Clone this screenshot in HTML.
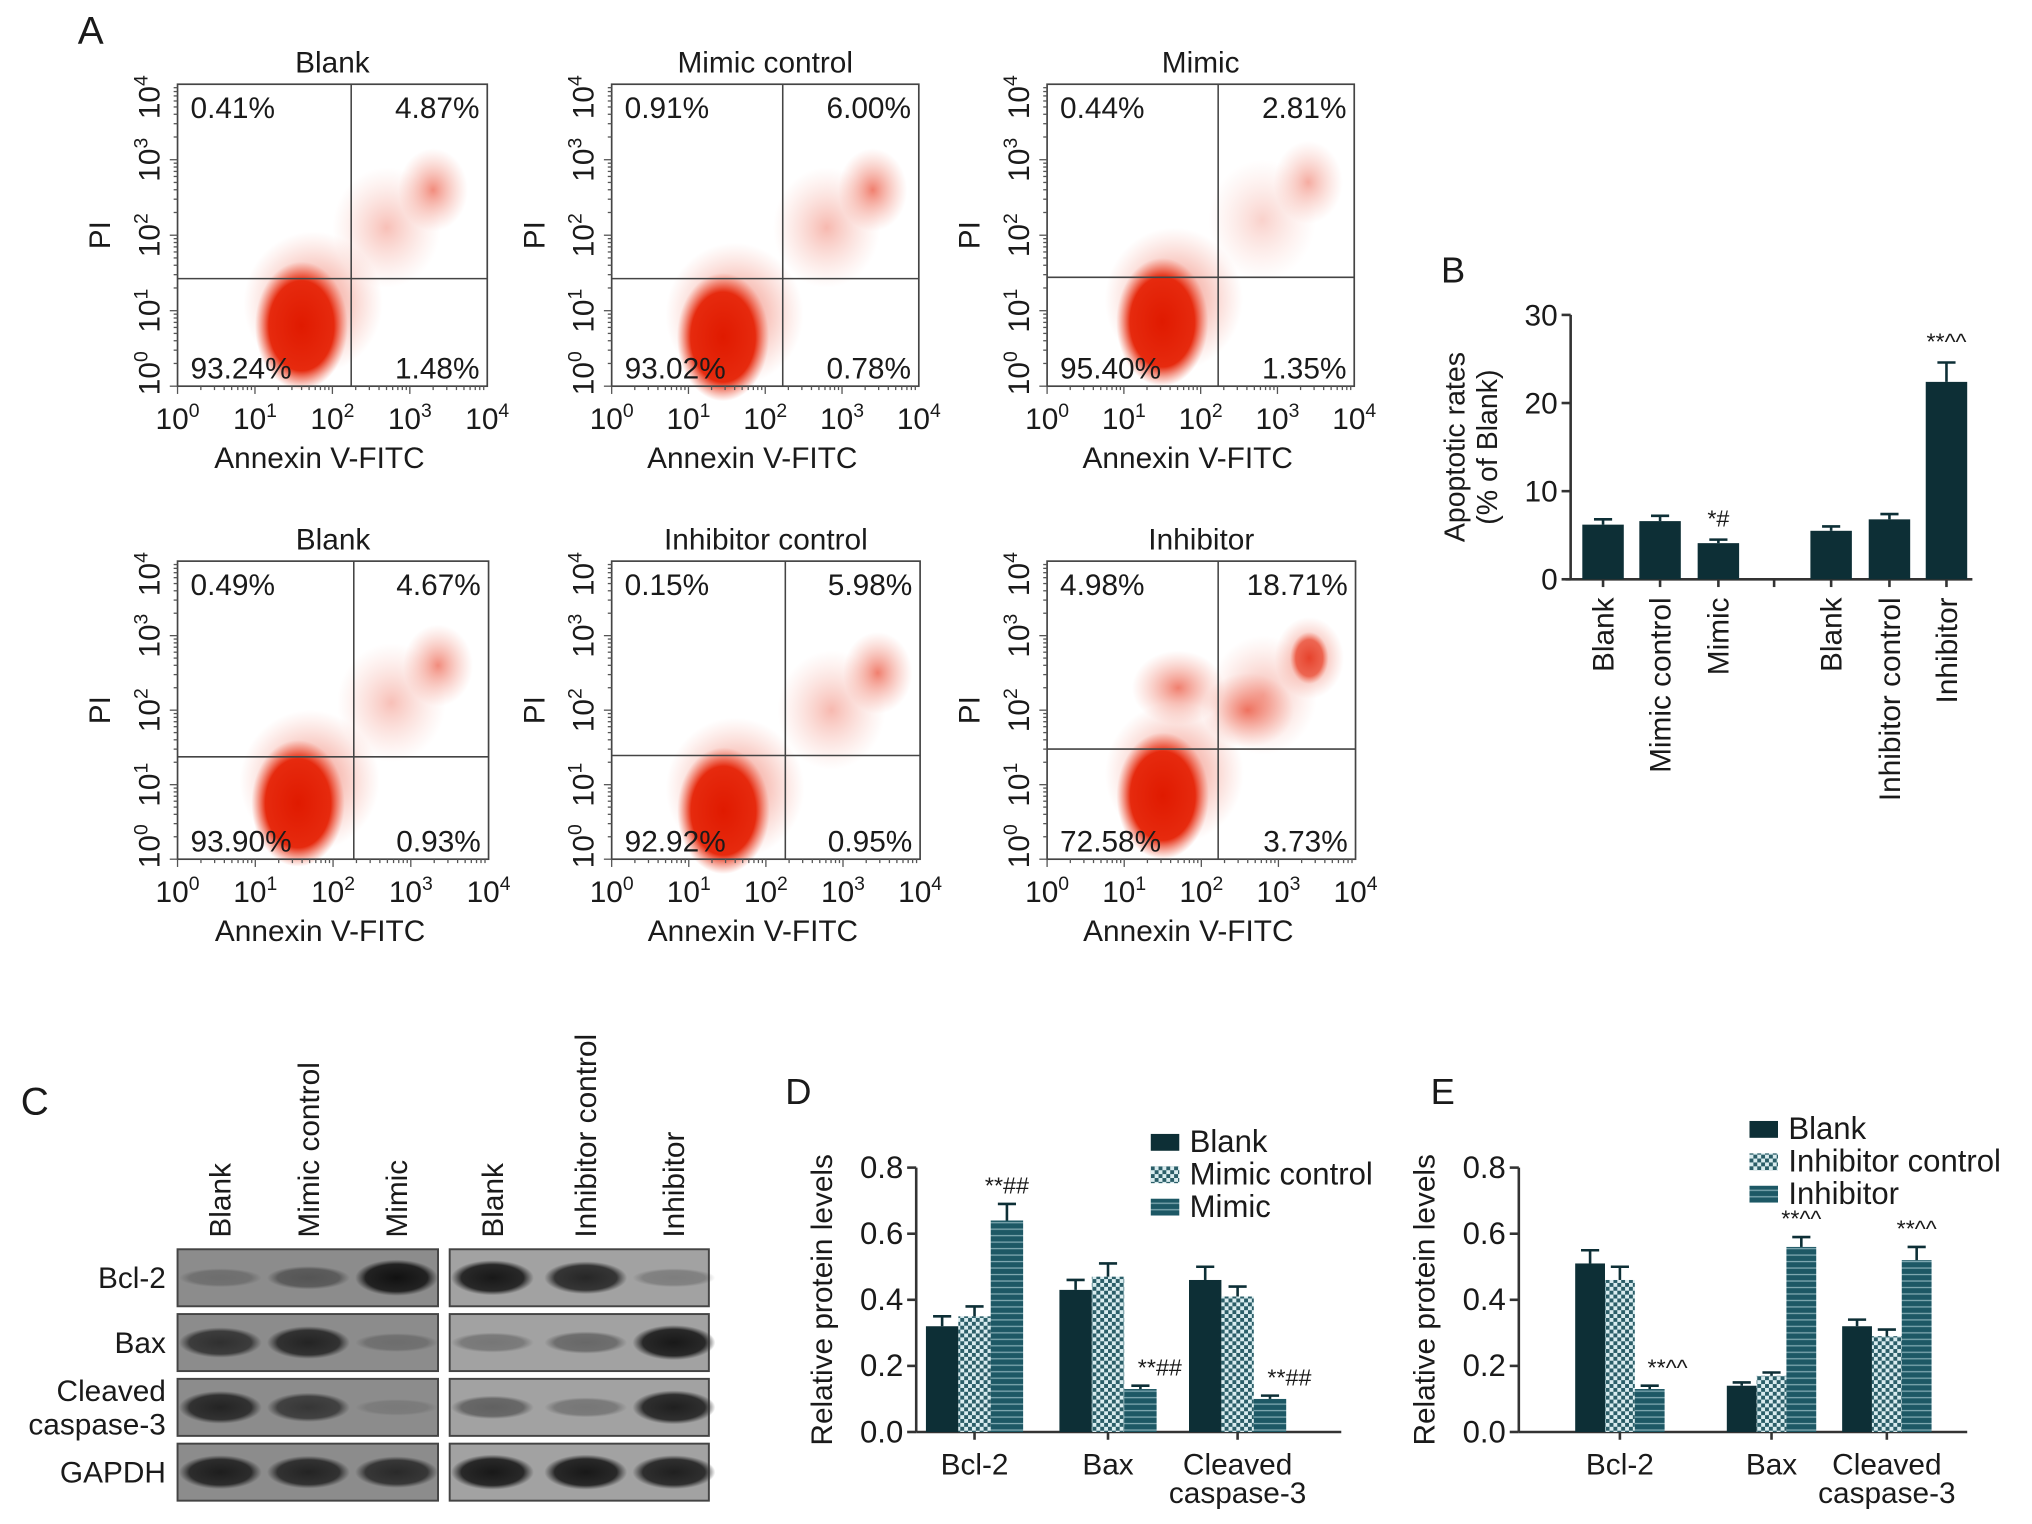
<!DOCTYPE html>
<html><head><meta charset="utf-8"><style>
html,body{margin:0;padding:0;background:#fff}
svg{display:block;font-family:"Liberation Sans",Arial,sans-serif}
</style></head><body>
<svg id="fig" xmlns="http://www.w3.org/2000/svg" width="2032" height="1524" viewBox="0 0 1568 1176">
<defs>
<pattern id="checker" width="6" height="6" patternUnits="userSpaceOnUse"><rect width="6" height="6" fill="#d9ecef"/><rect width="3" height="3" fill="#2b5e68"/><rect x="3" y="3" width="3" height="3" fill="#2b5e68"/></pattern>
<pattern id="stripes" width="6" height="5" patternUnits="userSpaceOnUse"><rect width="6" height="5" fill="#1d5865"/><rect y="3" width="6" height="1" fill="#7fa9b1"/></pattern>
<radialGradient id="dense"><stop offset="0" stop-color="#e01a00"/><stop offset="0.7" stop-color="#e62a0e"/><stop offset="1" stop-color="#ee5a40" stop-opacity="0"/></radialGradient>
<radialGradient id="cloud"><stop offset="0" stop-color="#e83a20" stop-opacity="0.65"/><stop offset="1" stop-color="#f07a66" stop-opacity="0"/></radialGradient>
<radialGradient id="band"><stop offset="0" stop-color="#111"/><stop offset="0.75" stop-color="#222"/><stop offset="1" stop-color="#333" stop-opacity="0"/></radialGradient>
</defs>
<g id="panelA"></g>
<g id="panelB"></g>
<g id="panelC"></g>
<g id="panelD"></g>
<g id="panelE"></g>
</svg>
<script>
// ---------- DATA ----------
const flowTitles = ["Blank","Mimic control","Mimic","Blank","Inhibitor control","Inhibitor"];
const flowUL = ["0.41%","0.91%","0.44%","0.49%","0.15%","4.98%"];
const flowUR = ["4.87%","6.00%","2.81%","4.67%","5.98%","18.71%"];
const flowLL = ["93.24%","93.02%","95.40%","93.90%","92.92%","72.58%"];
const flowLR = ["1.48%","0.78%","1.35%","0.93%","0.95%","3.73%"];
const denseX = [1.6,1.45,1.5,1.55,1.45,1.5];
const denseY = [0.8,0.65,0.85,0.75,0.65,0.85];
const urX = [3.3,3.4,3.4,3.35,3.45,3.4];
const urY = [2.6,2.6,2.7,2.6,2.5,2.7];
const urStrength = [0.9,1.0,0.65,0.9,1.0,1.0];
const extraX = [1.7,2.6];
const extraY = [2.3,2.0];
const xTickExp = ["0","1","2","3","4"];

const bCats = ["Blank","Mimic control","Mimic","Blank","Inhibitor control","Inhibitor"];
const bVals = [6.2,6.6,4.1,5.5,6.8,22.4];
const bErr = [0.6,0.6,0.4,0.5,0.6,2.2];
const bSig = ["","","*#","","","**^^"];
const bTicks = [0,10,20,30];

const protCats = ["Bcl-2","Bax","Cleaved|caspase-3"];
const dBlank = [0.32,0.43,0.46], dBlankErr=[0.03,0.03,0.04];
const dCtrl = [0.35,0.47,0.41], dCtrlErr=[0.03,0.04,0.03];
const dTreat = [0.64,0.13,0.10], dTreatErr=[0.05,0.01,0.01];
const dSig = ["**##","**##","**##"];
const eBlank = [0.51,0.14,0.32], eBlankErr=[0.04,0.01,0.02];
const eCtrl = [0.46,0.17,0.29], eCtrlErr=[0.04,0.01,0.02];
const eTreat = [0.13,0.56,0.52], eTreatErr=[0.01,0.03,0.04];
const eSig = ["**^^","**^^","**^^"];
const protTicks = ["0.0","0.2","0.4","0.6","0.8"];

const blotRows = ["Bcl-2","Bax","Cleaved|caspase-3","GAPDH"];
const blotLanes = ["Blank","Mimic control","Mimic","Blank","Inhibitor control","Inhibitor"];
const blotIntensity = [[0.25,0.45,1.0,0.95,0.85,0.25],[0.75,0.85,0.25,0.3,0.4,0.95],[0.85,0.7,0.15,0.45,0.3,0.9],[0.9,0.85,0.8,0.95,0.95,0.9]];

// ---------- HELPERS ----------
const NS="http://www.w3.org/2000/svg";
function mk(tag,attrs,parent){const e=document.createElementNS(NS,tag);for(const k in attrs)e.setAttribute(k,attrs[k]);parent.appendChild(e);return e;}
function txt(parent,x,y,s,size,anchor,extra){const t=mk('text',Object.assign({x:x,y:y,'font-size':size,'text-anchor':anchor||'start',fill:'#1a1a1a'},extra||{}),parent);t.textContent=s;return t;}
function pow10(parent,x,y,exp,size,rot){
  const t=mk('text',{x:x,y:y,'font-size':size,'text-anchor':'middle',fill:'#1a1a1a'},parent);
  if(rot)t.setAttribute('transform','rotate(-90 '+x+' '+y+')');
  const a=mk('tspan',{},t);a.textContent='10';
  const b=mk('tspan',{dy:-size*0.4,'font-size':size*0.65},t);b.textContent=exp;
  return t;
}

// ---------- PANEL A ----------
const A=document.getElementById('panelA');
const lblA=txt(A,60,34,"A",30);
const boxes=[[137,376,65,298,271,215],[472,709,65,298,604,215],[808,1045,65,298,940,214],
             [137,377,433,663,273,584],[472,710,433,663,606,583],[808,1046,433,663,940,578]];
flowTitles.forEach((title,i)=>{
  const [x0,x1,y0,y1,qx,qy]=boxes[i];
  const g=mk('g',{},A);
  
  
  const sx=v=>x0+v*(x1-x0)/4, sy=v=>y1-v*(y1-y0)/4, dx=(x1-x0)/4, dy=(y1-y0)/4;
  const cl=mk('ellipse',{cx:sx(denseX[i]+0.15),cy:sy(denseY[i]+0.3),rx:dx*0.9,ry:dy*0.95,fill:'url(#cloud)'},g);
  
  const d=mk('ellipse',{cx:sx(denseX[i]),cy:sy(denseY[i]),rx:dx*0.6,ry:dy*0.85,fill:'url(#dense)'},g);
  
  const u=mk('ellipse',{cx:sx(urX[i]),cy:sy(urY[i]),rx:dx*0.45,ry:dy*0.55,fill:'url(#cloud)',opacity:urStrength[i]},g);
  
  const u2=mk('ellipse',{cx:sx(urX[i]-0.6),cy:sy(urY[i]-0.5),rx:dx*0.7,ry:dy*0.8,fill:'url(#cloud)',opacity:urStrength[i]*0.55},g);
  
  if(i===5){extraX.forEach((ex,k)=>{const e=mk('ellipse',{cx:sx(ex),cy:sy(extraY[k]),rx:dx*0.6,ry:dy*0.5,fill:'url(#cloud)'},g);
    });
    const e2=mk('ellipse',{cx:sx(urX[i]),cy:sy(urY[i]),rx:dx*0.25,ry:dy*0.35,fill:'url(#dense)',opacity:0.6},g);
    }
  const r=mk('rect',{x:x0,y:y0,width:x1-x0,height:y1-y0,fill:'none',stroke:'#444','stroke-width':1.3},g);
  
  const q1=mk('line',{x1:qx,y1:y0,x2:qx,y2:y1,stroke:'#444','stroke-width':1.2},g);
  
  const q2=mk('line',{x1:x0,y1:qy,x2:x1,y2:qy,stroke:'#444','stroke-width':1.2},g);
  
  for(let k=0;k<4;k++)for(let m=1;m<10;m++){const f=Math.log10(m)+k;
    mk('line',{x1:sx(f),y1:y1,x2:sx(f),y2:y1+(m===1?6:3),stroke:'#555','stroke-width':1},g);
    mk('line',{x1:x0,y1:sy(f),x2:x0-(m===1?6:3),y2:sy(f),stroke:'#555','stroke-width':1},g);}
  xTickExp.forEach((e,k)=>{const t=pow10(g,sx(k),y1+33,e,23,false);
    const t2=pow10(g,x0-14,Math.min(Math.max(sy(k),y0+10),y1-10),e,23,true);});
  const ti=txt(g,(x0+x1)/2,y0-9,title,23,'middle');
  const xl=txt(g,(x0+x1)/2-10,y1+63,"Annexin V-FITC",23,'middle');
  const yl=txt(g,x0-52,(y0+y1)/2,"PI",23,'middle',{transform:'rotate(-90 '+(x0-52)+' '+((y0+y1)/2)+')'});
  const p1=txt(g,x0+10,y0+26,flowUL[i],23);
  const p2=txt(g,x1-6,y0+26,flowUR[i],23,'end');
  const p3=txt(g,x0+10,y1-6,flowLL[i],23);
  const p4=txt(g,x1-6,y1-6,flowLR[i],23,'end');
});

// ---------- PANEL B ----------
const B=document.getElementById('panelB');
const lblB=txt(B,1112,218,"B",28);
const bX0=1212,bY0=447,bY1=243;
const byS=v=>bY0-v/30*(bY0-bY1);
const bCenters=[1237,1281,1326,1413,1458,1502];
mk('line',{x1:bX0,y1:bY1,x2:bX0,y2:bY0,stroke:'#333','stroke-width':2},B);
mk('line',{x1:bX0-4,y1:bY0,x2:1522,y2:bY0,stroke:'#333','stroke-width':2},B);
bTicks.forEach(v=>{mk('line',{x1:bX0-7,y1:byS(v),x2:bX0,y2:byS(v),stroke:'#333','stroke-width':2},B);
  const t=txt(B,bX0-10,byS(v)+8,String(v),23,'end');});
const bt=txt(B,1130,345,"Apoptotic rates",22,'middle',{transform:'rotate(-90 1130 345)'});
const bt2=txt(B,1155,345,"(% of Blank)",22,'middle',{transform:'rotate(-90 1155 345)'});
mk('line',{x1:1369,y1:bY0,x2:1369,y2:bY0+6,stroke:'#333','stroke-width':2},B);
bVals.forEach((v,i)=>{const cx=bCenters[i];
  const r=mk('rect',{x:cx-16,y:byS(v),width:32,height:bY0-byS(v),fill:'#0d2f36'},B);
  
  mk('line',{x1:cx,y1:byS(v),x2:cx,y2:byS(v+bErr[i]),stroke:'#0d2f36','stroke-width':2},B);
  mk('line',{x1:cx-7,y1:byS(v+bErr[i]),x2:cx+7,y2:byS(v+bErr[i]),stroke:'#0d2f36','stroke-width':2},B);
  mk('line',{x1:cx,y1:bY0,x2:cx,y2:bY0+6,stroke:'#333','stroke-width':2},B);
  if(bSig[i]){const s=txt(B,cx,byS(v+bErr[i])-10,bSig[i],18,'middle');}
  const l=txt(B,cx+8,bY0+14,bCats[i],23,'end',{transform:'rotate(-90 '+(cx+8)+' '+(bY0+14)+')'});
});

// ---------- PANEL C ----------
const C=document.getElementById('panelC');
const lblC=txt(C,16,860,"C",30);
const laneX=[170,238,306,380,452,520];
const rowY=[[964,1008],[1014,1058],[1064,1108],[1114,1158]];
const blocks=[[137,338],[347,547]];
blotLanes.forEach((n,i)=>{const l=txt(C,laneX[i]+8,955,n,23,'start',{transform:'rotate(-90 '+(laneX[i]+8)+' 955)'});});
blotRows.forEach((name,r)=>{
  const [ya,yb]=rowY[r];
  blocks.forEach((b,k)=>{const rr=mk('rect',{x:b[0],y:ya,width:b[1]-b[0],height:yb-ya,fill:k?'#a2a2a2':'#8c8c8c',stroke:'#444','stroke-width':1.5},C);
    });
  blotIntensity[r].forEach((v,i)=>{const e=mk('ellipse',{cx:laneX[i],cy:(ya+yb)/2,rx:32,ry:5+9*v,fill:'url(#band)',opacity:v},C);
    });
  const parts=name.split('|');
  parts.forEach((p,k)=>{const t=txt(C,128,(ya+yb)/2+8+(parts.length>1?(k?13:-13):0),p,23,'end');});
});

// ---------- PANELS D & E ----------
function protChart(id,label,lblX,x0,xEnd,centers,bw,series,errs,sig,legendNames,legX,legY){
  const G=document.getElementById(id);
  const l=txt(G,lblX,852,label,28);
  const y0=1105,y1=901,ys=v=>y0-v/0.8*(y0-y1);
  mk('line',{x1:x0,y1:y1,x2:x0,y2:y0,stroke:'#333','stroke-width':2},G);
  mk('line',{x1:x0,y1:y0,x2:xEnd,y2:y0,stroke:'#333','stroke-width':2},G);
  protTicks.forEach(t=>{const v=parseFloat(t);mk('line',{x1:x0-7,y1:ys(v),x2:x0,y2:ys(v),stroke:'#333','stroke-width':2},G);
    const tt=txt(G,x0-10,ys(v)+8,t,24,'end');});
  const yt=txt(G,x0-65,1003,"Relative protein levels",23,'middle',{transform:'rotate(-90 '+(x0-65)+' 1003)'});
  const fills=['#0d2f36','url(#checker)','url(#stripes)'];
  protCats.forEach((c,gi)=>{const cx=centers[gi];
    mk('line',{x1:cx,y1:y0,x2:cx,y2:y0+6,stroke:'#333','stroke-width':2},G);
    const parts=c.split('|');parts.forEach((p,k)=>{const t=txt(G,cx,y0+33+k*22,p,23,'middle');});
    series.forEach((s,si)=>{const v=s[gi],e=errs[si][gi],bx=cx+(si-1)*bw;
      const r=mk('rect',{x:bx-bw/2,y:ys(v),width:bw,height:y0-ys(v),fill:fills[si]},G);
      
      mk('line',{x1:bx,y1:ys(v),x2:bx,y2:ys(v+e),stroke:'#0d2f36','stroke-width':2},G);
      mk('line',{x1:bx-7,y1:ys(v+e),x2:bx+7,y2:ys(v+e),stroke:'#0d2f36','stroke-width':2},G);
      if(si===2){const sm=txt(G,bx+(v<0.3?bw*0.6:0),ys(v+e)-8,sig[gi],18,'middle');}
    });
  });
  legendNames.forEach((n,k)=>{const y=legY+k*25;
    const sw=mk('rect',{x:legX,y:y-13,width:22,height:13,fill:fills[k]},G);
    const t=txt(G,legX+30,y+1,n,24);});
}
protChart('panelD','D',606,707,1035,[752,855,955],25,[dBlank,dCtrl,dTreat],[dBlankErr,dCtrlErr,dTreatErr],dSig,["Blank","Mimic control","Mimic"],888,888);
protChart('panelE','E',1104,1172,1518,[1250,1367,1456],23,[eBlank,eCtrl,eTreat],[eBlankErr,eCtrlErr,eTreatErr],eSig,["Blank","Inhibitor control","Inhibitor"],1350,878);
</script>
</body></html>
